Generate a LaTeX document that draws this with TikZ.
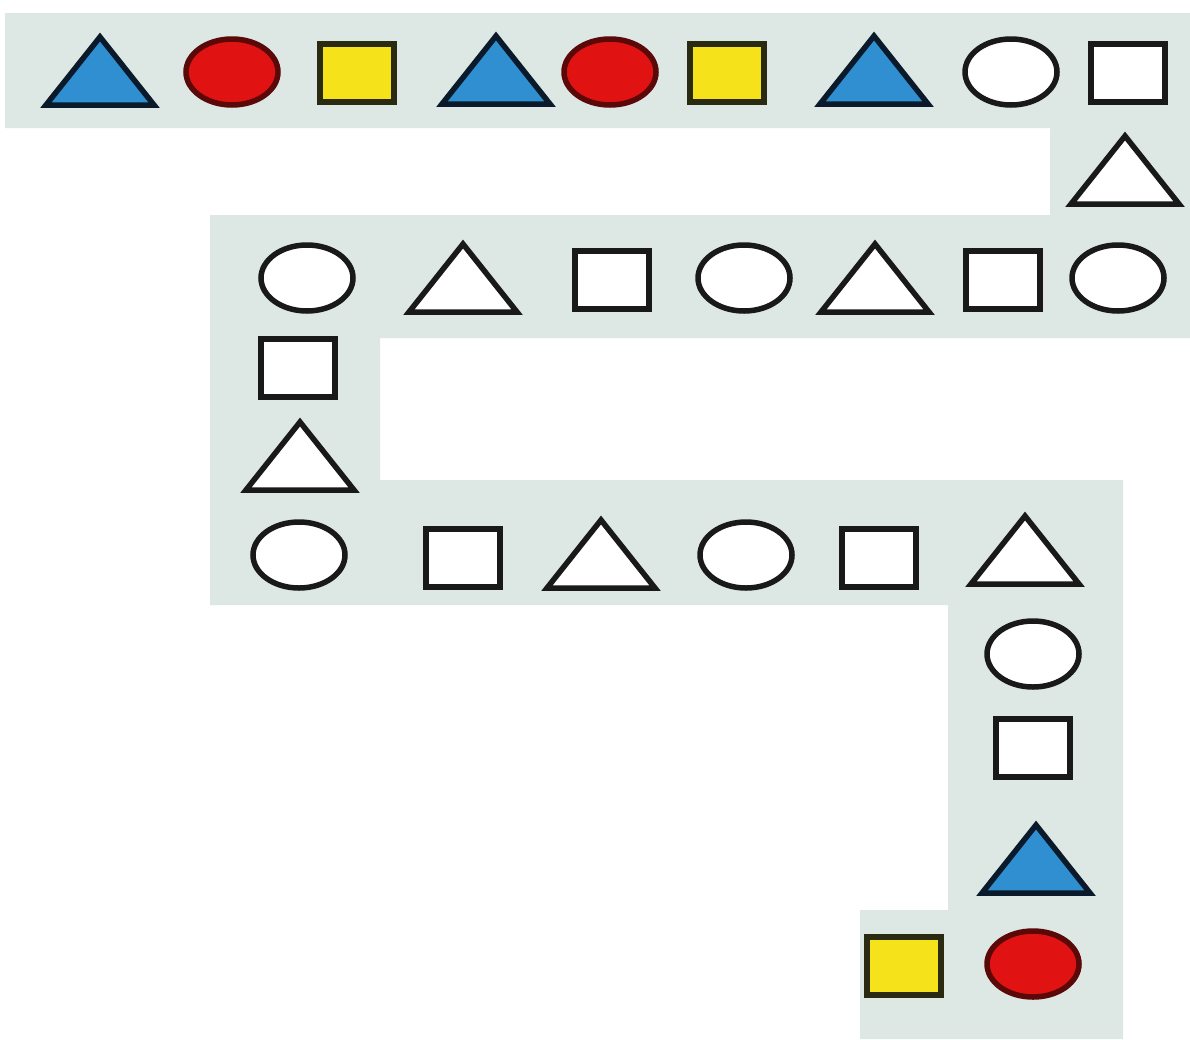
\documentclass[tikz,border=0pt]{standalone}
\definecolor{band}{HTML}{DDE8E4}
\definecolor{sblue}{HTML}{2F8FD0}
\definecolor{sred}{HTML}{E01212}
\definecolor{syellow}{HTML}{F5E21A}
\definecolor{dred}{HTML}{5A0808}
\definecolor{dyel}{HTML}{2A2A10}
\definecolor{dblue}{HTML}{0A1A2A}
\tikzset{
  outl/.style={line width=5.5pt, line join=miter},
  tri/.pic={\path[outl, pic actions] (-54,34) -- (0,-34) -- (54,34) -- cycle;},
  ell/.pic={\path[outl, pic actions] (0,0) ellipse [x radius=46, y radius=33];},
  sq/.pic={\path[outl, pic actions] (-37,-29) rectangle (37,29);},
  wht/.style={draw=black!90, fill=white},
  blu/.style={draw=dblue, fill=sblue},
  rd/.style={draw=dred, fill=sred},
  yel/.style={draw=dyel, fill=syellow},
}
\begin{document}
\begin{tikzpicture}[x=1pt,y=-1pt]
\useasboundingbox (0,0) rectangle (1190,1039);
\fill[white] (0,0) rectangle (1190,1039);
\fill[band] (5,13) -- (1190,13) -- (1190,338) -- (380,338) -- (380,480) -- (1123,480)
  -- (1123,1039) -- (860,1039) -- (860,910) -- (948,910) -- (948,605) -- (210,605)
  -- (210,215) -- (1050,215) -- (1050,128) -- (5,128) -- cycle;
% row 1
\pic[blu] at (100,71) {tri};
\pic[rd] at (232,72) {ell};
\pic[yel] at (357,73) {sq};
\pic[blu] at (496,70) {tri};
\pic[rd] at (610,72) {ell};
\pic[yel] at (727,73) {sq};
\pic[blu] at (874,70) {tri};
\pic[wht] at (1011,72) {ell};
\pic[wht] at (1128,73) {sq};
% right connector
\pic[wht] at (1125,170) {tri};
% row 2
\pic[wht] at (1118,278) {ell};
\pic[wht] at (1003,280) {sq};
\pic[wht] at (875,278) {tri};
\pic[wht] at (744,278) {ell};
\pic[wht] at (612,280) {sq};
\pic[wht] at (463,278) {tri};
\pic[wht] at (307,278) {ell};
% left connector
\pic[wht] at (298,368) {sq};
\pic[wht] at (300,456) {tri};
% row 3
\pic[wht] at (299,555) {ell};
\pic[wht] at (463,558) {sq};
\pic[wht] at (601,554) {tri};
\pic[wht] at (746,555) {ell};
\pic[wht] at (879,558) {sq};
\pic[wht] at (1025,550) {tri};
% right column
\pic[wht] at (1033,654) {ell};
\pic[wht] at (1033,748) {sq};
\pic[blu] at (1036,859) {tri};
% bottom
\pic[rd] at (1033,964) {ell};
\pic[yel] at (904,966) {sq};
\end{tikzpicture}
\end{document}
